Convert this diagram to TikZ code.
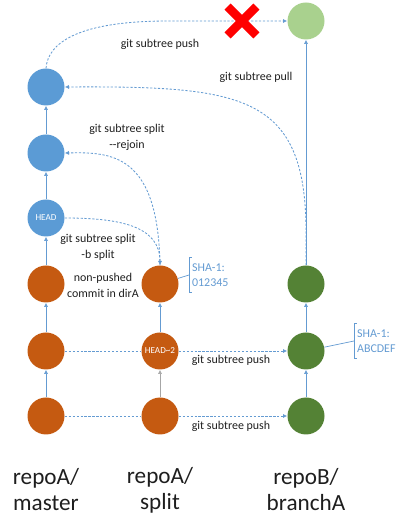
\documentclass[tikz,border=0pt]{standalone}
\usepackage{fontspec}
\setmainfont{Carlito}
\usetikzlibrary{arrows.meta}
\definecolor{cblue}{RGB}{91,155,213}
\definecolor{corange}{RGB}{197,90,17}
\definecolor{cgreen}{RGB}{84,130,53}
\definecolor{clight}{RGB}{169,209,142}
\definecolor{clink}{RGB}{100,155,210}
\definecolor{ctext}{RGB}{30,30,30}
\tikzset{
  commit/.style={circle,minimum size=0.925cm,inner sep=0pt,text=white,font=\fontsize{6.5}{7}\selectfont},
  link/.style={clink,line width=0.5pt},
  dashlink/.style={clink,line width=0.6pt,dash pattern=on 1.6pt off 1.2pt},
  cmd/.style={ctext,align=center,font=\fontsize{8.5}{11.3}\selectfont},
  sha/.style={clink,align=left,anchor=west,inner xsep=2pt,inner ysep=4pt,font=\fontsize{8.5}{11}\selectfont},
  repo/.style={ctext,align=center,font=\fontsize{16.5}{18.5}\selectfont}
}
\begin{document}
\begin{tikzpicture}[>={Latex[length=3pt,width=3pt]}]
            \useasboundingbox (0,0) rectangle (10.025,13.25);
            \node[commit,fill=corange] (m1) at (1.15,2.85) {};
            \node[commit,fill=corange] (m2) at (1.15,4.475) {};
            \node[commit,fill=corange] (m3) at (1.15,6.15) {};
            \node[commit,fill=cblue] (m4) at (1.15,7.8) {HEAD};
            \node[commit,fill=cblue] (m5) at (1.15,9.425) {};
            \node[commit,fill=cblue] (m6) at (1.15,11.075) {};
            \node[commit,fill=corange] (s1) at (4.0,2.85) {};
            \node[commit,fill=corange] (s2) at (4.0,4.475) {HEAD\textasciitilde2};
            \node[commit,fill=corange] (s3) at (4.0,6.15) {};
            \node[commit,fill=cgreen] (b1) at (7.65,2.85) {};
            \node[commit,fill=cgreen] (b2) at (7.65,4.475) {};
            \node[commit,fill=cgreen] (b3) at (7.65,6.15) {};
            \node[commit,fill=clight] (b4) at (7.65,12.725) {};
            \foreach \a/\b in {m1/m2,m2/m3,m3/m4,m4/m5,m5/m6,s2/s3,b1/b2,b2/b3,b3/b4}
              \draw[link,->] (\a) -- (\b);
            \draw[gray!70,line width=0.5pt,->] (s1) -- (s2);
            \draw[dashlink] (m1) -- (s1);
            \draw[dashlink,->] (s1) -- (b1);
            \draw[dashlink] (m2) -- (s2);
            \draw[dashlink,->] (s2) -- (b2);
            \draw[dashlink,->] (m4.east) .. controls (3.0,7.8) and (4.0,7.6) .. (s3.north);
            \draw[dashlink,->] (s3.north) .. controls (3.95,9.4) and (2.8,9.45) .. (m5.east);
            \draw[dashlink,->] (b3.north) -- (7.65,7.6) .. controls (7.6,10.9) and (6.0,11.1) .. (m6.east);
            \draw[dashlink,->] (m6.north) .. controls (1.2,12.2) and (2.0,12.725) .. (4.2,12.725) -- (b4.west);
            \coordinate (nopush) at (6.05,12.725);
            \draw[red,line width=6.2pt] (nopush) +(-0.36,-0.36) -- +(0.36,0.36)
              (nopush) +(-0.36,0.36) -- +(0.36,-0.36);
            \node[sha] (sha1) at (4.725,6.375) {SHA-1:\\012345};
            \node[sha] (sha2) at (8.85,4.725) {SHA-1:\\ABCDEF};
            \foreach \n in {sha1,sha2}
              \draw[link] ([xshift=2pt]\n.north west) -- (\n.north west) -- (\n.south west) -- ([xshift=2pt]\n.south west);
            \draw[link] (s3) -- (sha1.west);
            \draw[link] (b2) -- (sha2.west);
            \node[cmd] (push3) at (4.0,12.15) {git subtree push};
            \node[cmd] (pull) at (6.4,11.325) {git subtree pull};
            \node[cmd] (rejoin) at (3.175,9.825) {git subtree split\\-{}-rejoin};
            \node[cmd] (bsplit) at (2.45,7.075) {git subtree split\\-b split};
            \node[cmd] (dira) at (2.575,6.125) {non-pushed\\commit in dirA};
            \node[cmd] (push2) at (5.775,4.25) {git subtree push};
            \node[cmd] (push1) at (5.775,2.6) {git subtree push};
            \node[repo] (lmaster) at (1.15,1.0) {repoA/\\master};
            \node[repo] (lsplit) at (4.0,1.0) {repoA/\\split};
            \node[repo] (lbranch) at (7.65,1.0) {repoB/\\branchA};
        \end{tikzpicture}
\end{document}
